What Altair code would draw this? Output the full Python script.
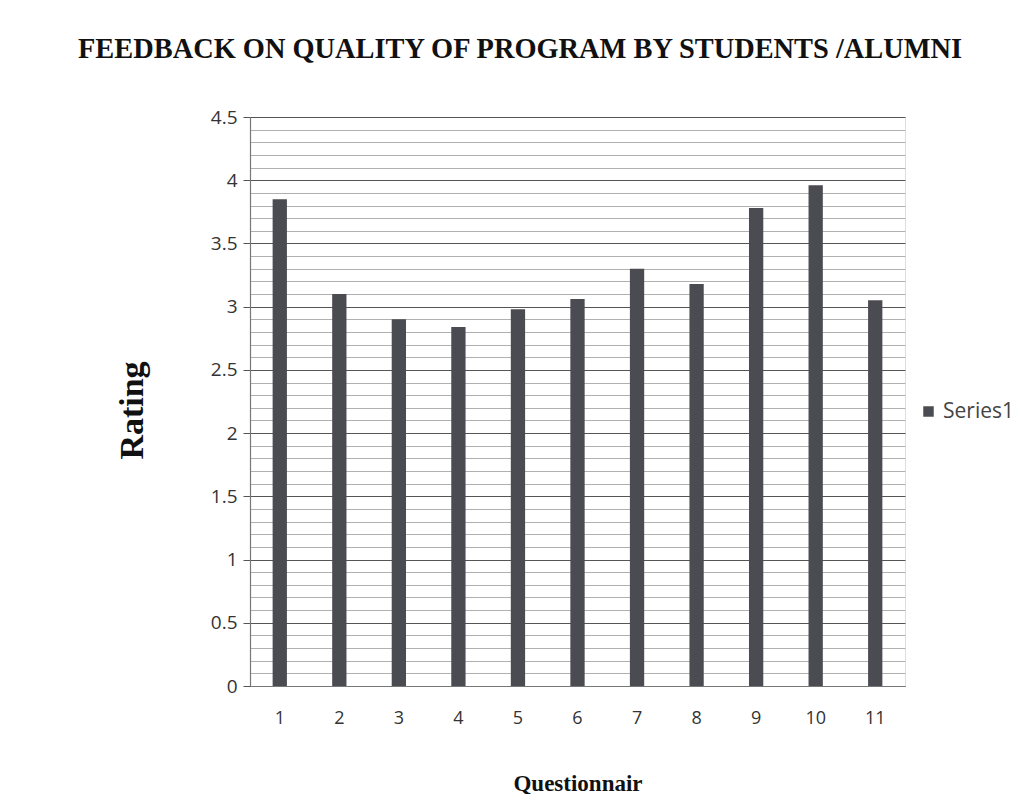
import altair as alt
import pandas as pd

questions = ["1", "2", "3", "4", "5", "6", "7", "8", "9", "10", "11"]
ratings = [3.85, 3.10, 2.90, 2.84, 2.98, 3.06, 3.30, 3.18, 3.78, 3.96, 3.05]
series_name = ["Series1"] * len(questions)
y_ticks = [round(i * 0.1, 1) for i in range(0, 46)]

df = pd.DataFrame({"q": questions, "rating": ratings, "series": series_name})

serif = "Liberation Serif"
sans = "Open Sans"
major = "abs(datum.value*2 - round(datum.value*2)) < 0.001"

bars = alt.Chart(df).mark_bar(color="#4b4b52").encode(
    x=alt.X("q:N", sort=questions,
            scale=alt.Scale(paddingInner=0.76, paddingOuter=0.38),
            axis=alt.Axis(title="Questionnair", labelAngle=0, labelFont=sans,
                          labelFontSize=18, labelColor="#333", labelPadding=23,
                          ticks=False, domainColor="#777", domainWidth=1.2,
                          titleFont=serif, titleFontSize=23, titleFontWeight="bold",
                          titleColor="#111", titleBaseline="middle", titleY=97)),
    y=alt.Y("rating:Q", scale=alt.Scale(domain=[0, 4.5], nice=False),
            axis=alt.Axis(values=y_ticks,
                          labelExpr=major + " ? '' + datum.value : ''",
                          labelFont=sans, labelFontSize=19, labelColor="#333",
                          labelPadding=6,
                          tickSize=7,
                          tickColor={"condition": {"test": major, "value": "#555"}, "value": "transparent"},
                          gridColor={"condition": {"test": major, "value": "#555"}, "value": "#b0b0b0"},
                          gridWidth=1,
                          domainColor="#777", domainWidth=1.2,
                          title="Rating", titleFont=serif, titleFontSize=34,
                          titleFontWeight="bold", titleColor="#111",
                          titleX=-118, titleY=293, titleAngle=-90,
                          titleBaseline="middle")),
    color=alt.Color("series:N", scale=alt.Scale(range=["#4b4b52"]),
                    legend=alt.Legend(title=None, orient="none", legendX=668,
                                      legendY=284, symbolType="square",
                                      symbolSize=110, labelFont=sans,
                                      labelFontSize=21, labelColor="#444")),
)

chart = bars.properties(
    width=655,
    height=569,
    title=alt.TitleParams("FEEDBACK ON QUALITY OF PROGRAM BY STUDENTS /ALUMNI",
                          anchor="start", frame="group", dx=-172, offset=44,
                          font=serif, fontSize=28.4, fontWeight="bold",
                          color="#111"),
    autosize=alt.AutoSizeParams(type="none"),
    padding={"left": 242, "top": 109, "right": 121, "bottom": 108},
).configure_view(stroke=None).configure(background="white")

chart.save("out.html", embed_options={"renderer": "svg", "actions": False})
